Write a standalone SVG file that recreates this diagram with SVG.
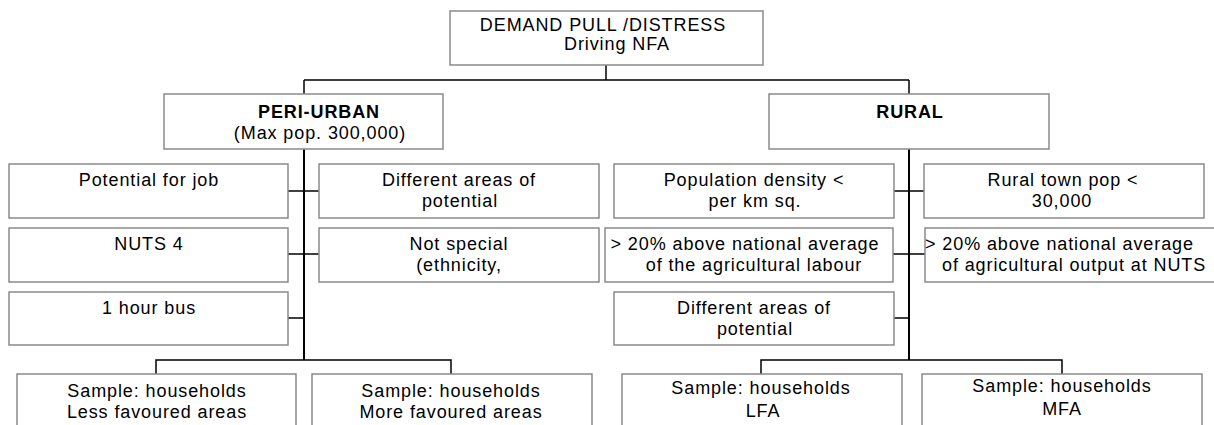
<svg xmlns="http://www.w3.org/2000/svg" width="1214" height="425" viewBox="0 0 1214 425">
<style>
  .box { fill: #ffffff; stroke: #8a8a8a; stroke-width: 1.5; }
  .t { font-family: "Liberation Sans", Arial, sans-serif; font-size: 18px; letter-spacing: 0.9px; fill: #000; text-anchor: middle; }
  .s { text-anchor: start; }
  .b { font-weight: bold; }
  .ln { stroke: #000; stroke-width: 1.5; fill: none; }
  .tr { stroke: #000; stroke-width: 2; fill: none; }
</style>
<rect width="1214" height="425" fill="#ffffff"/>
<g id="connectors">
  <path class="ln" d="M606 65 V80 M304 80 H909 M304 80 V94 M909 80 V94"/>
  <path class="tr" d="M304 149 V360 M909 149 V360"/>
  <path class="ln" d="M288 191 H319 M288 254 H319 M288 318 H304"/>
  <path class="ln" d="M894 191 H924 M893 254 H925 M894 318 H909"/>
  <path class="ln" d="M156 374 V360 H451 V374"/>
  <path class="ln" d="M761 374 V360 H1062 V374"/>
</g>
<g id="n-top">
  <rect class="box" x="450" y="11" width="313" height="54"/>
  <text class="t" x="603" y="31">DEMAND PULL /DISTRESS</text>
  <text class="t" x="617" y="50">Driving NFA</text>
</g>
<g id="n-periurban">
  <rect class="box" x="164" y="94" width="279" height="55"/>
  <text class="t b" x="319" y="118">PERI-URBAN</text>
  <text class="t" x="320" y="139">(Max pop. 300,000)</text>
</g>
<g id="n-rural">
  <rect class="box" x="769" y="94" width="280" height="55"/>
  <text class="t b" x="910" y="118">RURAL</text>
</g>
<g id="n-job">
  <rect class="box" x="9" y="164" width="279" height="54"/>
  <text class="t" x="149" y="186">Potential for job</text>
</g>
<g id="n-diffareas-pu">
  <rect class="box" x="319" y="164" width="280" height="54"/>
  <text class="t" x="459" y="186">Different areas of</text>
  <text class="t" x="460" y="207">potential</text>
</g>
<g id="n-nuts4">
  <rect class="box" x="9" y="228" width="279" height="54"/>
  <text class="t" x="149" y="250">NUTS 4</text>
</g>
<g id="n-notspecial">
  <rect class="box" x="319" y="228" width="280" height="54"/>
  <text class="t" x="459" y="250">Not special</text>
  <text class="t" x="459" y="271">(ethnicity,</text>
</g>
<g id="n-bus">
  <rect class="box" x="9" y="292" width="279" height="53"/>
  <text class="t" x="149" y="314">1 hour bus</text>
</g>
<g id="n-popdensity">
  <rect class="box" x="614" y="164" width="280" height="54"/>
  <text class="t" x="754" y="186">Population density &lt;</text>
  <text class="t" x="755" y="207">per km sq.</text>
</g>
<g id="n-ruraltown">
  <rect class="box" x="924" y="164" width="280" height="54"/>
  <text class="t" x="1063" y="186">Rural town pop &lt;</text>
  <text class="t" x="1062" y="207">30,000</text>
</g>
<g id="n-labour">
  <rect class="box" x="605" y="228" width="288" height="54"/>
  <text class="t" x="745" y="250">&gt; 20% above national average</text>
  <text class="t" x="754" y="271">of the agricultural labour</text>
</g>
<g id="n-output">
  <rect class="box" x="925" y="228" width="320" height="54"/>
  <text class="t s" x="925" y="250">&gt; 20% above national average</text>
  <text class="t s" x="942" y="271">of agricultural output at NUTS</text>
</g>
<g id="n-diffareas-r">
  <rect class="box" x="614" y="292" width="280" height="53"/>
  <text class="t" x="754" y="314">Different areas of</text>
  <text class="t" x="755" y="335">potential</text>
</g>
<g id="n-sample-less">
  <rect class="box" x="17" y="374" width="279" height="60"/>
  <text class="t" x="157" y="397">Sample: households</text>
  <text class="t" x="157" y="418">Less favoured areas</text>
</g>
<g id="n-sample-more">
  <rect class="box" x="312" y="374" width="280" height="60"/>
  <text class="t" x="451" y="397">Sample: households</text>
  <text class="t" x="451" y="418">More favoured areas</text>
</g>
<g id="n-sample-lfa">
  <rect class="box" x="622" y="374" width="280" height="60"/>
  <text class="t" x="761" y="394">Sample: households</text>
  <text class="t" x="763" y="417">LFA</text>
</g>
<g id="n-sample-mfa">
  <rect class="box" x="922" y="374" width="280" height="60"/>
  <text class="t" x="1062" y="392">Sample: households</text>
  <text class="t" x="1062" y="415">MFA</text>
</g>
</svg>
